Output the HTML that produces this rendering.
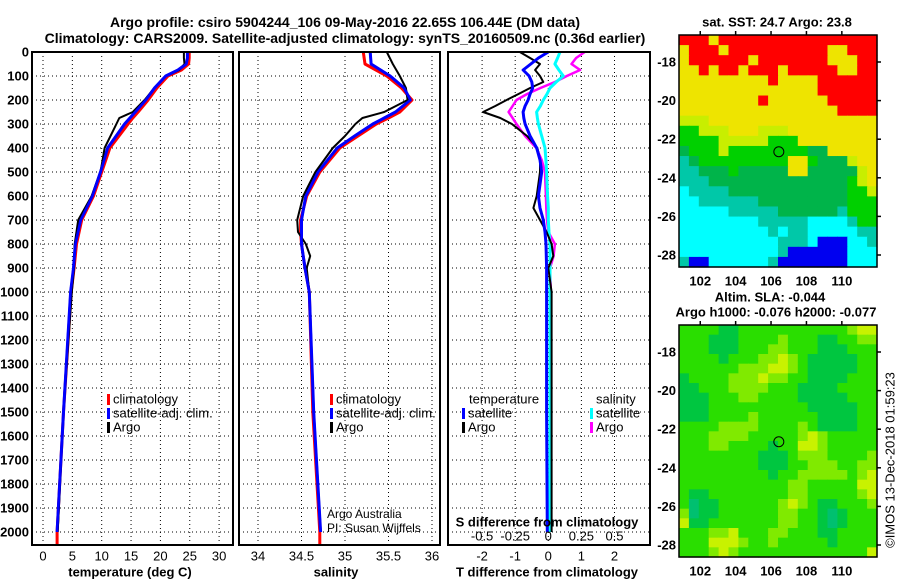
<!DOCTYPE html>
<html><head><meta charset="utf-8"><style>
body{margin:0;background:#fff}
svg{display:block;font-family:"Liberation Sans",sans-serif}
.b{font-weight:bold}
</style></head><body>
<svg id="s" width="900" height="580" viewBox="0 0 900 580"></svg>
<script>
// ---- data ----
const depthsT=[0,25,50,75,100,150,200,250,275,300,400,500,600,700,800,900,1000,1500,2000];
const tClim=[24.9,24.9,24.8,23.6,21.3,19.4,17.9,16.2,15.3,14.5,11.4,10.0,8.6,6.6,5.7,5.3,4.8,3.5,2.4];
const tSat=[24.6,24.6,24.4,23.0,20.9,19.0,17.5,15.7,14.8,13.9,11.0,9.8,8.4,6.4,5.5,5.2,4.7,3.5,2.4];
const tArgo=[24.0,24.0,24.1,23.2,20.9,19.0,17.3,15.3,13.0,12.5,10.5,9.8,8.3,6.0,5.4,5.3,4.9,3.5,2.5];
const depthsS=[0,50,100,150,200,250,275,300,350,400,500,600,700,750,800,850,900,1000,1500,2000];
const sClim=[35.21,35.23,35.48,35.65,35.77,35.63,35.5,35.36,35.15,34.94,34.71,34.56,34.49,34.49,34.5,34.52,34.54,34.59,34.63,34.71];
const sSat=[35.29,35.30,35.52,35.68,35.75,35.58,35.45,35.32,35.11,34.91,34.69,34.55,34.50,34.50,34.50,34.52,34.54,34.59,34.64,34.72];
const sArgo=[35.48,35.55,35.63,35.70,35.72,35.45,35.2,35.12,35.0,34.86,34.66,34.52,34.45,34.46,34.55,34.6,34.56,34.59,34.64,34.72];
const depthsD=[0,25,50,75,100,125,150,175,200,225,250,275,300,350,400,450,500,600,650,700,750,800,850,900,1000,1500,2000];
const dTSat=[0.0,-0.3,-0.53,-0.76,-0.58,-0.5,-0.47,-0.55,-0.61,-0.7,-0.76,-0.74,-0.7,-0.55,-0.35,-0.25,-0.2,-0.3,-0.25,-0.15,-0.1,-0.07,-0.06,-0.05,-0.05,-0.05,-0.03];
const dTArgo=[-0.86,-0.55,-0.25,-0.4,-0.25,-0.15,-0.55,-0.9,-1.26,-1.6,-1.97,-1.45,-1.1,-0.64,-0.33,-0.25,-0.25,-0.35,-0.45,-0.25,-0.05,0.1,0.15,0.0,0.1,0.1,0.1];
const dSSat=[0.088,0.07,0.05,0.08,0.113,0.06,0.013,-0.01,-0.038,-0.06,-0.088,-0.082,-0.075,-0.05,-0.025,-0.018,-0.013,-0.005,0,0,0.005,0.013,0.013,0.013,0.013,0.013,0.013];
const dSArgo=[0.275,0.21,0.175,0.24,0.14,0.05,-0.06,-0.16,-0.24,-0.27,-0.3,-0.27,-0.24,-0.175,-0.09,-0.05,-0.025,-0.018,-0.015,-0.01,0,0.05,0.04,0.013,0.02,0.013,0.013];
const depthTicks=[0,100,200,300,400,500,600,700,800,900,1000,1100,1200,1300,1400,1500,1600,1700,1800,1900,2000];
const tTicks=[0,5,10,15,20,25,30];
const sTicks=[34,34.5,35,35.5,36];
const dTicks=[-2,-1,0,1,2];
const sdTicks=[-0.5,-0.25,0,0.25,0.5];
const latTicks=[-18,-20,-22,-24,-26,-28];
const lonTicks=[102,104,106,108,110];
const sstGrid=[
"RRRYRRRRRRRRRRRRRRRR","YRRRYRRRRRRRRRRYYRRR","YRRRRRRYRRRRRRRYYYRR","YYRYRRYRRRYRRRRRYYRR",
"YYYYYYYYYRYYYYRRRRRR","YYYYYYYYYYYYYYRRRRRR","YYYYYYYYRYYYYYYRRRRR","YYYYYYYYYYYYYYYYRRRR",
"LLLYYYYYYYYYYYYYYYYY","GGLLLYYYLLLYYYYYYYYY","GGGGLLLLLGGGYYYYYYYY","DGGGLGGGGGGGGDDYYYYY",
"TDGGGGGGGGGYYGDDDLYY","TTDDDGDDDDDYYDDDDDLY","TTTDDDDDDDDDDDDDDGLY","CTTTTDDDDDDDDDDDDGGL",
"CCTTTTTTDDDDDDDDDGGG","CCCCCTTTTTDDDDDDTGGG","CCCCCCCCTTTTTCCCCTGG","CCCCCCCCCTCTTCCCCCTT",
"CCCCCCCCCCTTTCBBBCCT","CCCCCCCCCCTBBBBBBCCC","TBBCCCCCCTBBBBBBBCCC"];
const slaGrid=[
"GGGGDDGGGGGGGGGGGLYY","GGGDDDGGGGLGGGDDGGLL","GGGDDDGGGLLGGGDDDGGG","GGGGDGGGLLYLGDDDDDGG",
"GGGGGGLLLYYLGDDDDDGG","DGGGGLLLYLLGGDDDDGGG","DDGGGLLLLGGGDDDDGGGG","DDDGGGLLGGGGDDDDDGGG",
"DDDGGGGGGGGGGDDDDDGG","DDDGGGGLGGGGGGDDDDGG","GGGGLLLLGGGGLGDDDDGG","GGGLLLLGGGGGLYLGGGGG",
"GGGLLGGGGDGGYYLGGGGG","GGGGGGGGDDDGLLLGGGGL","GGGGGGGGDDDGGLLLGGLL","GGGGGGGGGDGGLLLLLGLY",
"GGGGGGGGGGGLLGGGGGYY","GDDGGGGGGGGLLGGGGGLY","GTDDGGGGGGLYLGDDGGGL","LTDDGGGGGGLLGGDTDGGG",
"YDDGGGGGGGLLGGDTDGGG","GGGLLYGGGLLGGGDDGGGG","GGGYYYLGGLGGGGGDGGGG","GGGLYLGGGGGGGGGGGGGY"];
const sstCol={R:"#ff0000",Y:"#eee400",L:"#c8ee00",G:"#00d000",D:"#00b44a",T:"#00c8a8",C:"#00ffff",B:"#0000f0"};
const slaCol={G:"#2ade00",D:"#00c640",L:"#80ea00",Y:"#c8f200",T:"#00c070"};

// ---- helpers ----
const NS="http://www.w3.org/2000/svg",S=document.getElementById('s');
function mk(tag,a,p){const e=document.createElementNS(NS,tag);for(const k in a)e.setAttribute(k,a[k]);(p||S).appendChild(e);return e;}
function txt(x,y,t,sz,anchor,bold,name){const e=mk('text',{x:x,y:y,'font-size':sz,'text-anchor':anchor||'middle','dominant-baseline':'central','class':bold===false?'':'b'});e.textContent=t;


return e;}
const yD=d=>52+d*0.24;
const xT=t=>43+t*5.87;
const xS=s=>258+(s-34)*87;
const xD=v=>548.3+v*33.1;
const xSD=v=>xD(v*4);
function line(xs,ds,fx,col,w,name){const pts=xs.map((v,i)=>fx(v).toFixed(1)+','+yD(ds[i]).toFixed(1)).join(' ');
const e=mk('polyline',{points:pts,fill:'none',stroke:col,'stroke-width':w,'stroke-linejoin':'round'});

}
function panel(x0,x1,ticks,fx,name){
 const g=mk('g',{});
 
 
 depthTicks.forEach(d=>mk('line',{x1:x0,x2:x1,y1:yD(d),y2:yD(d),stroke:'#000','stroke-width':1,'stroke-dasharray':'1,3'},g));
 ticks.forEach(t=>mk('line',{x1:fx(t),x2:fx(t),y1:52,y2:545,stroke:'#000','stroke-width':1,'stroke-dasharray':'1,3'},g));
 return g;}
function frame(x0,x1,name){const e=mk('rect',{x:x0,y:52,width:x1-x0,height:493,fill:'none',stroke:'#000','stroke-width':2});

}

// titles
txt(345,22,'Argo profile: csiro 5904244_106 09-May-2016 22.65S 106.44E (DM data)',14,'middle',true,'chart-title-line1');
txt(345,38,'Climatology: CARS2009. Satellite-adjusted climatology: synTS_20160509.nc (0.36d earlier)',14,'middle',true,'chart-title-line2');

// depth labels
depthTicks.forEach(d=>txt(29,yD(d),String(d),13,'end',true,'depth-tick-label'));

// panel 1
panel(32,233,tTicks,xT,'temperature-grid');
line(tClim.concat([tClim[tClim.length-1]]),depthsT.concat([2055]),xT,'#ff0000',3,'temperature-climatology-line');
line(tSat,depthsT,xT,'#0000ff',3,'temperature-satellite-line');
line(tArgo,depthsT,xT,'#000',2,'temperature-argo-line');
line(tSat,depthsT,xT,'#0000ff',2.5,'temperature-satellite-line-top');
frame(32,233,'temperature-panel-frame');
tTicks.forEach(t=>txt(xT(t),556,String(t),13,'middle',false,'temperature-tick-label'));
txt(130,572,'temperature (deg C)',13,'middle',true,'temperature-axis-title');

// panel 2
panel(239,440,sTicks,xS,'salinity-grid');
line(sClim.concat([sClim[sClim.length-1]]),depthsS.concat([2055]),xS,'#ff0000',3,'salinity-climatology-line');
line(sSat,depthsS,xS,'#0000ff',3,'salinity-satellite-line');
line(sArgo,depthsS,xS,'#000',2,'salinity-argo-line');
line(sSat,depthsS,xS,'#0000ff',2.5,'salinity-satellite-line-top');
frame(239,440,'salinity-panel-frame');
sTicks.forEach(t=>txt(xS(t),556,String(t),13,'middle',false,'salinity-tick-label'));
txt(336,572,'salinity',13,'middle',true,'salinity-axis-title');

// panel 3
panel(448,650,dTicks,xD,'difference-grid');
line(dSArgo,depthsD,xSD,'#ff00ff',2.5,'salinity-diff-argo-line');
line(dSSat,depthsD,xSD,'#00ffff',3,'salinity-diff-satellite-line');
line(dTArgo,depthsD,xD,'#000',2,'temperature-diff-argo-line');
line(dTSat,depthsD,xD,'#0000ff',3,'temperature-diff-satellite-line');
frame(448,650,'difference-panel-frame');
dTicks.forEach(t=>txt(xD(t),556,String(t),13,'middle',false,'t-diff-tick-label'));
sdTicks.forEach(t=>txt(xSD(t),536,String(t),13,'middle',false,'s-diff-tick-label'));
txt(547,522,'S difference from climatology',13,'middle',true,'s-diff-axis-title');
txt(547,572,'T difference from climatology',13,'middle',true,'t-diff-axis-title');

// legends
function leg(x,y,col,label,name){const r=mk('rect',{x:x,y:y-5,width:3,height:11,fill:col});


txt(x+6,y,label,13,'start',false,name);}
leg(107,399,'#ff0000','climatology','legend-climatology');
leg(107,413,'#0000ff','satellite-adj. clim.','legend-satellite-adj');
leg(107,427,'#000','Argo','legend-argo');
leg(330,399,'#ff0000','climatology','legend-sal-climatology');
leg(330,413,'#0000ff','satellite-adj. clim.','legend-sal-satellite-adj');
leg(330,427,'#000','Argo','legend-sal-argo');
txt(469,399,'temperature',13,'start',false,'legend-temperature-heading');
leg(462,413,'#0000ff','satellite','legend-t-satellite');
leg(462,427,'#000','Argo','legend-t-argo');
txt(596,399,'salinity',13,'start',false,'legend-salinity-heading');
leg(590,413,'#00ffff','satellite','legend-s-satellite');
leg(590,427,'#ff00ff','Argo','legend-s-argo');
txt(327,514,'Argo Australia',12,'start',false,'credit-argo-australia');
txt(327,528,'PI: Susan Wijffels',12,'start',false,'credit-pi');

// maps
const mx0=679,mx1=877;
const lonX=l=>mx0+(l-100.8)*17.7;
function map(grid,cols,y0,y1,lat18,lat28,name){
 const g=mk('g',{});
 
 
 const nr=grid.length,nc=grid[0].length,cw=(mx1-mx0)/nc,ch=(y1-y0)/nr;
 grid.forEach((row,r)=>{for(let c=0;c<nc;c++){mk('rect',{x:(mx0+c*cw).toFixed(2),y:(y0+r*ch).toFixed(2),width:(cw+0.6).toFixed(2),height:(ch+0.6).toFixed(2),fill:cols[row[c]]},g);}});
 const lat=v=>lat18+(-18-v)/10*(lat28-lat18);
 mk('rect',{x:mx0,y:y0,width:mx1-mx0,height:y1-y0,fill:'none',stroke:'#000','stroke-width':1.5},g);
 latTicks.forEach(v=>{txt(676,lat(v),String(v),13,'end',true,'latitude-tick-label');
  mk('line',{x1:mx1,x2:mx1+4,y1:lat(v),y2:lat(v),stroke:'#000','stroke-width':1.5},g);});
 lonTicks.forEach(l=>{txt(lonX(l),y1+14,String(l),13,'middle',true,'longitude-tick-label');
  mk('line',{x1:lonX(l),x2:lonX(l),y1:y0,y2:y0-4,stroke:'#000','stroke-width':1.5},g);});
 const c=mk('circle',{cx:lonX(106.44),cy:lat(-22.65),r:5,fill:'none',stroke:'#000','stroke-width':1});
 
 
}
map(sstGrid,sstCol,35,267,62,255,'sst-map');
map(slaGrid,slaCol,325,557,352,545,'sla-map');
txt(777,22,'sat. SST: 24.7 Argo: 23.8',13,'middle',true,'sst-map-title');
txt(770,297,'Altim. SLA: -0.044',13,'middle',true,'sla-map-title');
txt(776,312,'Argo h1000: -0.076 h2000: -0.077',13,'middle',true,'sla-map-subtitle');
const v=txt(0,0,'©IMOS 13-Dec-2018 01:59:23',13,'middle',false,'imos-timestamp');
v.setAttribute('transform','translate(890,460) rotate(-90)');
</script>
</body></html>
